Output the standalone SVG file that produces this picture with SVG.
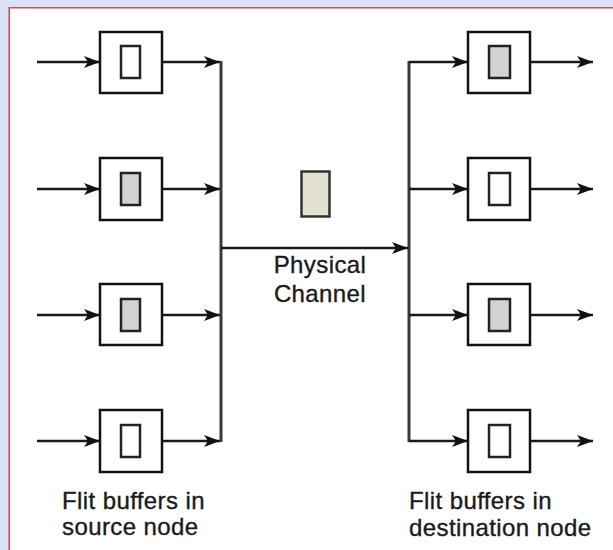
<svg xmlns="http://www.w3.org/2000/svg" width="613" height="550" viewBox="0 0 613 550">
  <defs>
    <marker id="ah" markerUnits="userSpaceOnUse" markerWidth="18" markerHeight="14" refX="16" refY="6.5" orient="auto">
      <path d="M0,0.5 L16,6.5 L0,12.5 L4,6.5 Z" fill="#111"/>
    </marker>
  </defs>
  <style>
    .box { fill: #ffffff; stroke: #111; stroke-width: 2.5; }
    .buf { fill: #ffffff; stroke: #222; stroke-width: 2.5; }
    .full { fill: #d2d2d2; }
    .ln { stroke: #1a1a1a; stroke-width: 2.3; fill: none; }
    .arr { marker-end: url(#ah); }
    .bus { stroke: #3a3a3a; stroke-width: 3; fill: none; }
    .lbl { font-family: "Liberation Sans", Arial, sans-serif; font-size: 24px; fill: #1a1a1a; stroke: #1a1a1a; stroke-width: 0.35; letter-spacing: 0.4px; }
  </style>
  <rect x="0" y="0" width="613" height="550" fill="#d9e2f3"/>
  <rect x="9" y="8" width="604" height="542" fill="#ffffff"/>
  <line x1="9" y1="7.8" x2="613" y2="7.8" stroke="#e84646" stroke-width="1.6"/>
  <line x1="9.2" y1="7" x2="9.2" y2="550" stroke="#e84646" stroke-width="1.6"/>

  <g id="connectors">
    <!-- source inputs -->
    <line class="ln arr" x1="37" y1="62" x2="100" y2="62"/>
    <line class="ln arr" x1="37" y1="189" x2="100" y2="189"/>
    <line class="ln arr" x1="37" y1="315" x2="100" y2="315"/>
    <line class="ln arr" x1="37" y1="441" x2="100" y2="441"/>
    <!-- source outputs -->
    <line class="ln arr" x1="162" y1="62" x2="220" y2="62"/>
    <line class="ln arr" x1="162" y1="189" x2="220" y2="189"/>
    <line class="ln arr" x1="162" y1="315" x2="220" y2="315"/>
    <line class="ln arr" x1="162" y1="441" x2="220" y2="441"/>
    <!-- buses -->
    <line class="bus" x1="221" y1="61" x2="221" y2="442"/>
    <line class="bus" x1="409" y1="61" x2="409" y2="442"/>
    <!-- physical channel -->
    <line class="ln arr" x1="221" y1="248" x2="408" y2="248"/>
    <!-- destination inputs -->
    <line class="ln arr" x1="409" y1="62" x2="468" y2="62"/>
    <line class="ln arr" x1="409" y1="189" x2="468" y2="189"/>
    <line class="ln arr" x1="409" y1="315" x2="468" y2="315"/>
    <line class="ln arr" x1="409" y1="441" x2="468" y2="441"/>
    <!-- destination outputs -->
    <line class="ln arr" x1="530" y1="62" x2="593" y2="62"/>
    <line class="ln arr" x1="530" y1="189" x2="593" y2="189"/>
    <line class="ln arr" x1="530" y1="315" x2="593" y2="315"/>
    <line class="ln arr" x1="530" y1="441" x2="593" y2="441"/>
  </g>

  <g id="src1">
    <rect class="box" x="100" y="32" width="62" height="61"/>
    <rect class="buf" x="121" y="46" width="19" height="32"/>
  </g>
  <g id="src2">
    <rect class="box" x="100" y="158" width="62" height="62"/>
    <rect class="buf full" x="121" y="173" width="19" height="32"/>
  </g>
  <g id="src3">
    <rect class="box" x="100" y="284" width="62" height="61"/>
    <rect class="buf full" x="121" y="299" width="19" height="32"/>
  </g>
  <g id="src4">
    <rect class="box" x="100" y="410" width="62" height="62"/>
    <rect class="buf" x="121" y="425" width="19" height="32"/>
  </g>

  <g id="dst1">
    <rect class="box" x="468" y="32" width="62" height="61"/>
    <rect class="buf full" x="489" y="46" width="21" height="32"/>
  </g>
  <g id="dst2">
    <rect class="box" x="468" y="158" width="62" height="62"/>
    <rect class="buf" x="489" y="173" width="21" height="32"/>
  </g>
  <g id="dst3">
    <rect class="box" x="468" y="284" width="62" height="61"/>
    <rect class="buf full" x="489" y="299" width="21" height="32"/>
  </g>
  <g id="dst4">
    <rect class="box" x="468" y="410" width="62" height="62"/>
    <rect class="buf" x="489" y="425" width="21" height="32"/>
  </g>

  <g id="channel">
    <rect x="301.5" y="171.5" width="28" height="45" fill="#e3e1cf" stroke="#333" stroke-width="2.5"/>
    <text class="lbl" x="320" y="273" text-anchor="middle">Physical</text>
    <text class="lbl" x="320" y="302" text-anchor="middle">Channel</text>
  </g>

  <g id="src-label">
    <text class="lbl" x="62" y="509">Flit buffers in</text>
    <text class="lbl" x="62" y="535">source node</text>
  </g>
  <g id="dst-label">
    <text class="lbl" x="409" y="509">Flit buffers in</text>
    <text class="lbl" x="409" y="536">destination node</text>
  </g>
</svg>
